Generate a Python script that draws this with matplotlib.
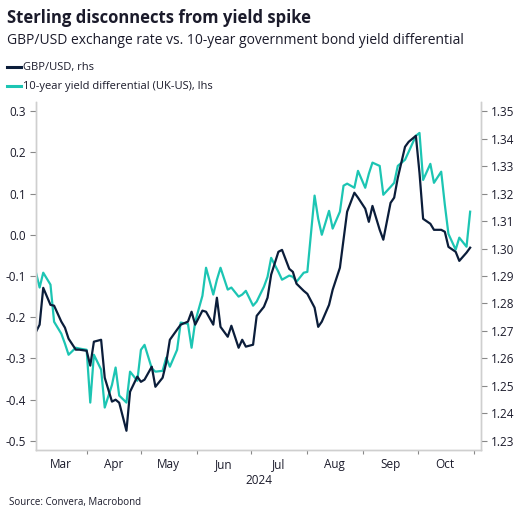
import matplotlib
matplotlib.use("Agg")
import matplotlib.pyplot as plt
import matplotlib.dates as mdates
import pandas as pd

# every second business day, 4 Mar - 30 Oct 2024
dates = pd.bdate_range("2024-03-04", "2024-10-31", freq="2B")

yield_diff = [
    -0.092, -0.128, -0.092, -0.121, -0.211, -0.240, -0.264, -0.291, -0.274, -0.276,
    -0.279, -0.407, -0.291, -0.327, -0.419, -0.364, -0.322, -0.390, -0.407, -0.332,
    -0.354, -0.279, -0.267, -0.324, -0.332, -0.330, -0.298, -0.320, -0.279, -0.213,
    -0.216, -0.274, -0.211, -0.148, -0.080, -0.145, -0.109, -0.080, -0.133, -0.128,
    -0.150, -0.145, -0.136, -0.172, -0.162, -0.126, -0.102, -0.056, -0.090, -0.109,
    -0.099, -0.102, -0.114, -0.092, -0.090, 0.095, 0.039, 0.000, 0.058, 0.015,
    0.056, 0.119, 0.124, 0.114, 0.155, 0.114, 0.148, 0.175, 0.167, 0.097,
    0.116, 0.126, 0.167, 0.182, 0.201, 0.240, 0.247, 0.133, 0.172, 0.126,
    0.153, 0.073, 0.002, -0.036, -0.007, -0.029, 0.056,
]

gbpusd = [
    1.2697, 1.2723, 1.2857, 1.2795, 1.2792, 1.2734, 1.2712, 1.2672, 1.2632, 1.2632,
    1.2628, 1.2574, 1.2661, 1.2668, 1.2530, 1.2443, 1.2450, 1.2439, 1.2337, 1.2479,
    1.2534, 1.2515, 1.2523, 1.2570, 1.2497, 1.2530, 1.2585, 1.2668, 1.2705, 1.2723,
    1.2734, 1.2770, 1.2723, 1.2774, 1.2770, 1.2723, 1.2821, 1.2715, 1.2679, 1.2719,
    1.2639, 1.2668, 1.2643, 1.2650, 1.2755, 1.2788, 1.2821, 1.2905, 1.2988, 1.2995,
    1.2926, 1.2915, 1.2872, 1.2846, 1.2835, 1.2785, 1.2715, 1.2734, 1.2795, 1.2850,
    1.2930, 1.3032, 1.3134, 1.3203, 1.3185, 1.3145, 1.3097, 1.3155, 1.3068, 1.3032,
    1.3166, 1.3185, 1.3257, 1.3370, 1.3388, 1.3410, 1.3275, 1.3108, 1.3090, 1.3068,
    1.3068, 1.3061, 1.3006, 1.2988, 1.2955, 1.2985, 1.3003,
]

left_ticks = [0.3, 0.2, 0.1, 0.0, -0.1, -0.2, -0.3, -0.4, -0.5]
right_ticks = [1.35, 1.34, 1.33, 1.32, 1.31, 1.30, 1.29, 1.28, 1.27, 1.26, 1.25, 1.24, 1.23]
# month names sit in the middle of the visible part of each month
month_label_dates = ["2024-03-18", "2024-04-16", "2024-05-16", "2024-06-16",
                     "2024-07-16", "2024-08-16", "2024-09-16", "2024-10-16"]
month_labels = ["Mar", "Apr", "May", "Jun", "Jul", "Aug", "Sep", "Oct"]

navy = "#0b1d3a"
teal = "#1cc5b3"
grey = "#cfcfcf"
txt = "#1b1b2b"

plt.rcParams["font.family"] = ["Open Sans", "DejaVu Sans"]

fig = plt.figure(figsize=(5.19, 5.19), dpi=100)
ax = fig.add_axes([36 / 519, 69 / 519, 445 / 519, 348 / 519])
ax2 = ax.twinx()

ax.plot(dates, yield_diff, color=teal, lw=1.6)
ax2.plot(dates, gbpusd, color=navy, lw=1.6)

ax.set_ylim(-0.522, 0.322)
ax2.set_ylim(1.2267, 1.3533)
ax.set_yticks(left_ticks)
ax.set_yticklabels([f"{v:.1f}" for v in left_ticks])
ax2.set_yticks(right_ticks)
ax2.set_yticklabels([f"{v:.2f}" for v in right_ticks])

ax.set_xlim(pd.Timestamp("2024-03-04"), pd.Timestamp("2024-11-05"))
ax.xaxis.set_major_locator(mdates.MonthLocator(bymonthday=1))
ax.xaxis.set_major_formatter(plt.NullFormatter())
ax.set_xticks(pd.to_datetime(month_label_dates), minor=True)
ax.set_xticklabels(month_labels, minor=True)

for a in (ax, ax2):
    a.spines["top"].set_visible(False)
    for s in ("left", "right", "bottom"):
        a.spines[s].set_color(grey)
        a.spines[s].set_linewidth(1.0)
    a.tick_params(axis="y", colors=txt, labelsize=8.5, length=4, width=0.8, color="#888888", pad=3)

ax.tick_params(axis="x", which="major", length=3, width=0.8, color="#888888")
ax.tick_params(axis="x", which="minor", length=0, labelsize=8.5, labelcolor=txt, pad=6)
ax.set_xlabel("2024", fontsize=8.5, color=txt, labelpad=2)

fig.text(7 / 519, 1 - 18 / 519, "Sterling disconnects from yield spike",
         fontsize=12, fontweight="bold", color=txt, va="center")
fig.text(7 / 519, 1 - 41 / 519, "GBP/USD exchange rate vs. 10-year government bond yield differential",
         fontsize=10, color=txt, va="center")

for yy, col, lab in [(67, navy, "GBP/USD, rhs"), (86, teal, "10-year yield differential (UK-US), lhs")]:
    fig.add_artist(plt.Line2D([7 / 519, 21 / 519], [1 - yy / 519, 1 - yy / 519],
                              color=col, lw=2.2, transform=fig.transFigure))
    fig.text(23 / 519, 1 - yy / 519, lab, fontsize=8, color=txt, va="center")

fig.text(9 / 519, 1 - 502 / 519, "Source: Convera, Macrobond", fontsize=7, color=txt, va="center")

fig.savefig("out.png", dpi=100)
